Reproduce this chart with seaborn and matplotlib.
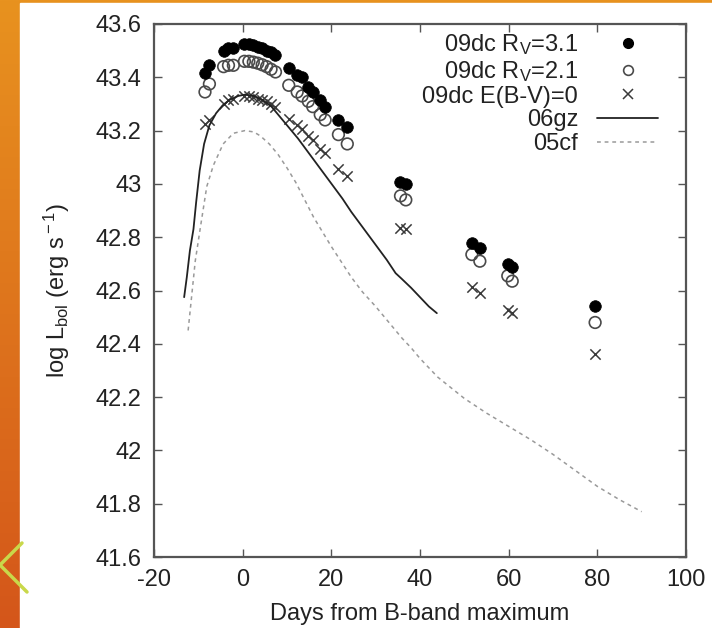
import numpy as np
import pandas as pd
import matplotlib
matplotlib.use("Agg")
import matplotlib.pyplot as plt
from matplotlib.lines import Line2D
import seaborn as sns

# ---------------- data ----------------
days_09dc = [-8.5, -7.5, -4.3, -3.2, -2.1, 0.4, 1.4, 2.4, 3.4, 4.4, 5.4, 6.4, 7.4,
             10.4, 12.3, 13.4, 14.8, 15.8, 17.5, 18.6, 21.6, 23.6,
             35.6, 36.8, 51.7, 53.5, 59.8, 60.8, 79.5]
rv31 = [43.415, 43.445, 43.50, 43.51, 43.51, 43.525, 43.525, 43.52, 43.515, 43.51,
        43.50, 43.495, 43.485,
        43.435, 43.41, 43.40, 43.365, 43.345, 43.315, 43.29, 43.24, 43.215,
        43.008, 43.0, 42.78, 42.76, 42.70, 42.69, 42.54]
rv21 = [43.345, 43.375, 43.44, 43.445, 43.445, 43.46, 43.46, 43.457, 43.453, 43.447,
        43.44, 43.43, 43.42,
        43.37, 43.345, 43.33, 43.31, 43.29, 43.26, 43.24, 43.185, 43.15,
        42.955, 42.94, 42.735, 42.71, 42.655, 42.635, 42.48]
ebv0 = [43.225, 43.24, 43.30, 43.315, 43.32, 43.33, 43.33, 43.325, 43.32, 43.315,
        43.31, 43.30, 43.29,
        43.245, 43.22, 43.205, 43.18, 43.165, 43.13, 43.115, 43.055, 43.03,
        42.835, 42.83, 42.615, 42.59, 42.527, 42.515, 42.36]

days_06gz = [-13.2, -12.6, -11.9, -11.1, -10.5, -9.7, -8.7, -7.5, -6.0, -4.5, -3.0, -1.0,
             0.5, 2.5, 4.5, 6.5, 8.5, 10.5, 12.5, 14.5, 16.5, 18.5, 20.5, 22.5, 24.5,
             26.5, 28.5, 30.5, 32.5, 34.5, 35.8, 38.0, 40.0, 42.0, 43.8]
lum_06gz = [42.575, 42.65, 42.75, 42.83, 42.93, 43.05, 43.15, 43.22, 43.265, 43.295,
            43.315, 43.33, 43.335, 43.33, 43.315, 43.29, 43.25, 43.21, 43.17, 43.125,
            43.08, 43.035, 42.99, 42.945, 42.895, 42.85, 42.805, 42.76, 42.715, 42.665,
            42.645, 42.61, 42.575, 42.54, 42.515]

days_05cf = [-12.3, -11.5, -10.7, -9.6, -8.1, -6.6, -4.4, -2.1, 0.5, 2.5, 4.0, 6.0, 8.0,
             10.0, 12.0, 14.0, 16.0, 18.0, 20.0, 22.0, 24.5, 27.0, 30.0, 32.0, 34.0,
             36.0, 38.0, 40.0, 42.0, 44.0, 47.0, 50.0, 55.0, 60.0, 65.0, 70.0, 75.0,
             80.0, 85.0, 90.0]
lum_05cf = [42.45, 42.58, 42.71, 42.83, 42.99, 43.07, 43.15, 43.19, 43.20, 43.195, 43.18,
            43.15, 43.11, 43.06, 43.005, 42.94, 42.875, 42.82, 42.765, 42.714, 42.65,
            42.595, 42.54, 42.50, 42.46, 42.42, 42.385, 42.345, 42.31, 42.275, 42.235,
            42.195, 42.14, 42.09, 42.04, 41.985, 41.925, 41.865, 41.815, 41.77]

labels = ["09dc R$_{\\rm V}$=3.1", "09dc R$_{\\rm V}$=2.1", "09dc E(B-V)=0", "06gz", "05cf"]
x_ticks = [-20, 0, 20, 40, 60, 80, 100]
y_ticks = [41.6, 41.8, 42.0, 42.2, 42.4, 42.6, 42.8, 43.0, 43.2, 43.4, 43.6]

# ---------------- style ----------------
sns.set_theme(style="white")
plt.rcParams["font.family"] = ["Liberation Sans", "DejaVu Sans"]
plt.rcParams["mathtext.fontset"] = "custom"
plt.rcParams["mathtext.rm"] = "Liberation Sans"
plt.rcParams["mathtext.it"] = "Liberation Sans:italic"
FS = 17

W, H = 712, 628
fig = plt.figure(figsize=(W / 100, H / 100), dpi=100)

# slide background (orange gradient strip on left and top)
bg = fig.add_axes([0, 0, 1, 1], zorder=-10)
grad = np.linspace(0, 1, 256).reshape(-1, 1)
cmap = matplotlib.colors.LinearSegmentedColormap.from_list("o", ["#E8921F", "#D4561A"])
bg.imshow(grad, aspect="auto", cmap=cmap, extent=[0, W, H, 0])
bg.add_patch(plt.Rectangle((20, 3), W - 20, H - 3, color="white", zorder=2))
bg.plot([22, 0, 27], [543, 565, 592], color="#C9D84A", lw=2.5, zorder=3,
        solid_joinstyle="miter")
bg.set_xlim(0, W)
bg.set_ylim(H, 0)
bg.axis("off")

ax = fig.add_axes([154 / W, 1 - 557 / H, (686 - 154) / W, (557 - 24) / H])
ax.set_facecolor("white")

df_lc = pd.DataFrame({"day": days_09dc, "rv31": rv31, "rv21": rv21, "ebv0": ebv0})
df_gz = pd.DataFrame({"day": days_06gz, "lum": lum_06gz})
df_cf = pd.DataFrame({"day": days_05cf, "lum": lum_05cf})

sns.lineplot(data=df_cf, x="day", y="lum", ax=ax, color="#9a9a9a", lw=1.1,
             dashes=False, linestyle=(0, (2.5, 2.5)), sort=False)
sns.lineplot(data=df_gz, x="day", y="lum", ax=ax, color="#222222", lw=1.3, sort=False)
sns.scatterplot(data=df_lc, x="day", y="ebv0", ax=ax, marker="x", s=55,
                color="#3a3a3a", linewidth=1.1)
sns.scatterplot(data=df_lc, x="day", y="rv21", ax=ax, marker="o", s=70,
                facecolor="none", edgecolor="#4a4a4a", linewidth=1.2)
sns.scatterplot(data=df_lc, x="day", y="rv31", ax=ax, marker="o", s=70,
                color="black", edgecolor="black", linewidth=0.5)

ax.set_xlim(-20, 100)
ax.set_ylim(41.6, 43.6)
ax.set_xticks(x_ticks)
ax.set_yticks(y_ticks)
ax.set_xticklabels([f"{v:g}" for v in x_ticks], fontsize=FS, color="#222222")
ax.set_yticklabels([f"{v:g}" for v in y_ticks], fontsize=FS, color="#222222")
ax.tick_params(direction="in", length=6, width=1.0, color="#555555",
               top=True, right=True, bottom=True, left=True, pad=9)
for sp in ax.spines.values():
    sp.set_visible(True)
    sp.set_color("#555555")
    sp.set_linewidth(1.6)

ax.set_xlabel("Days from B-band maximum", fontsize=FS, color="#222222", labelpad=8)
ax.set_ylabel("log L$_{\\rm bol}$ (erg s$^{\\rm -1}$)", fontsize=FS, color="#222222",
              labelpad=17)

handles = [
    Line2D([], [], ls="none", marker="o", ms=7, mfc="black", mec="black"),
    Line2D([], [], ls="none", marker="o", ms=7, mfc="none", mec="#4a4a4a", mew=1.2),
    Line2D([], [], ls="none", marker="x", ms=6.5, color="#3a3a3a", mew=1.1),
    Line2D([], [], color="#222222", lw=1.3),
    Line2D([], [], color="#9a9a9a", lw=1.1, ls=(0, (2.5, 2.5))),
]
leg = ax.legend(handles, labels, loc="upper right", frameon=False, markerfirst=False,
                fontsize=FS, handlelength=2.6, handletextpad=0.8, labelspacing=0.07,
                borderaxespad=0.0, borderpad=0.0, bbox_to_anchor=(0.948, 0.984))
for t in leg.get_texts():
    t.set_color("#222222")

fig.savefig("out.png", dpi=100)
